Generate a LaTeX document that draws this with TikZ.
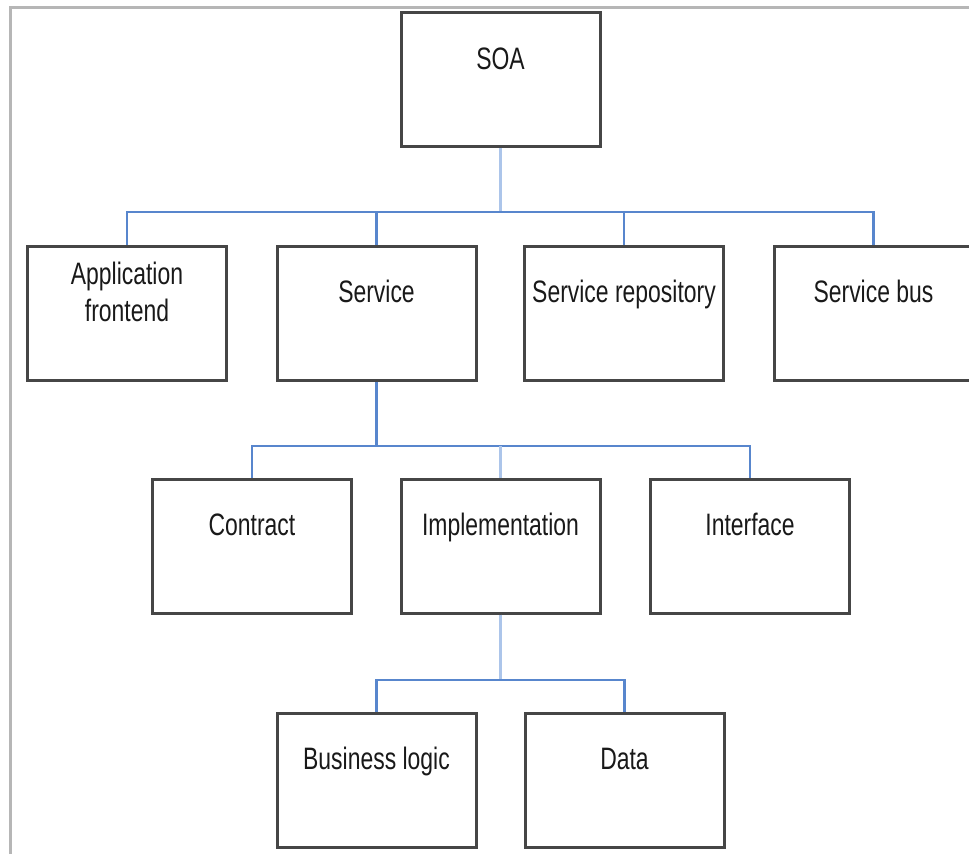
\documentclass[tikz,border=0pt]{standalone}
\usepackage{fontspec}
\setmainfont{Liberation Sans}[FakeStretch=0.74]
\usepackage{tikz}

\definecolor{busblue}{RGB}{88,134,205}
\definecolor{paleblue}{RGB}{172,197,234}
\definecolor{boxgray}{RGB}{70,70,70}
\definecolor{framegray}{RGB}{182,182,182}

\tikzset{
  block/.style={draw=boxgray, line width=3pt, minimum width=199pt, minimum height=134pt, inner sep=0pt},
  caption/.style={font=\fontsize{31}{37}\selectfont, align=center, text=black!90},
  bus/.style={draw=busblue, line width=2.2pt},
  feed/.style={draw=paleblue, line width=2.2pt}
}

\begin{document}
\begin{tikzpicture}[x=1pt,y=-1pt]

    \useasboundingbox (0,0) rectangle (969,854);

    % Frame of the screenshot
    \draw[framegray, line width=3pt] (10,854) -- (10,7) -- (969,7);

    % Draw the boxes
    \node[block] (soa) at (500.5,79.5) {};
    \foreach \name/\x in {front/127, service/376.5, repo/624, sbus/873.5} {
        \node[block] (\name) at (\x,313) {};
    }
    \foreach \name/\x in {contract/252, impl/500.5, iface/750} {
        \node[block] (\name) at (\x,546) {};
    }
    \foreach \name/\x in {logic/376.5, data/624.5} {
        \node[block] (\name) at (\x,780) {};
    }

    % Texts in the boxes
    \node[caption] (front-txt) at ([yshift=-47pt]front.north) {Application\\frontend};
    \foreach \name/\txt in {soa/SOA, service/Service, repo/Service repository,
        sbus/Service bus, contract/Contract, impl/Implementation,
        iface/Interface, logic/Business logic, data/Data} {
        \node[caption, anchor=base] (\name-txt) at ([yshift=-58pt]\name.north) {\txt};
    }

    % Junctions of the buses
    \coordinate (j1) at (500.5,212);
    \coordinate (j2) at (376.5,446);
    \coordinate (j3) at (500.5,680);

    % SOA to first row
    \draw[feed] (soa.south) -- (j1);
    \draw[bus] (front.north) |- (j1) -| (sbus.north);
    \draw[bus] (j1 -| service.north) -- (service.north);
    \draw[bus] (j1 -| repo.north) -- (repo.north);

    % Service to second row
    \draw[bus] (service.south) -- (j2);
    \draw[bus] (contract.north) |- (j2) -| (iface.north);
    \draw[feed] (j2 -| impl.north) -- (impl.north);

    % Implementation to third row
    \draw[feed] (impl.south) -- (j3);
    \draw[bus] (logic.north) |- (j3) -| (data.north);

\end{tikzpicture}
\end{document}
